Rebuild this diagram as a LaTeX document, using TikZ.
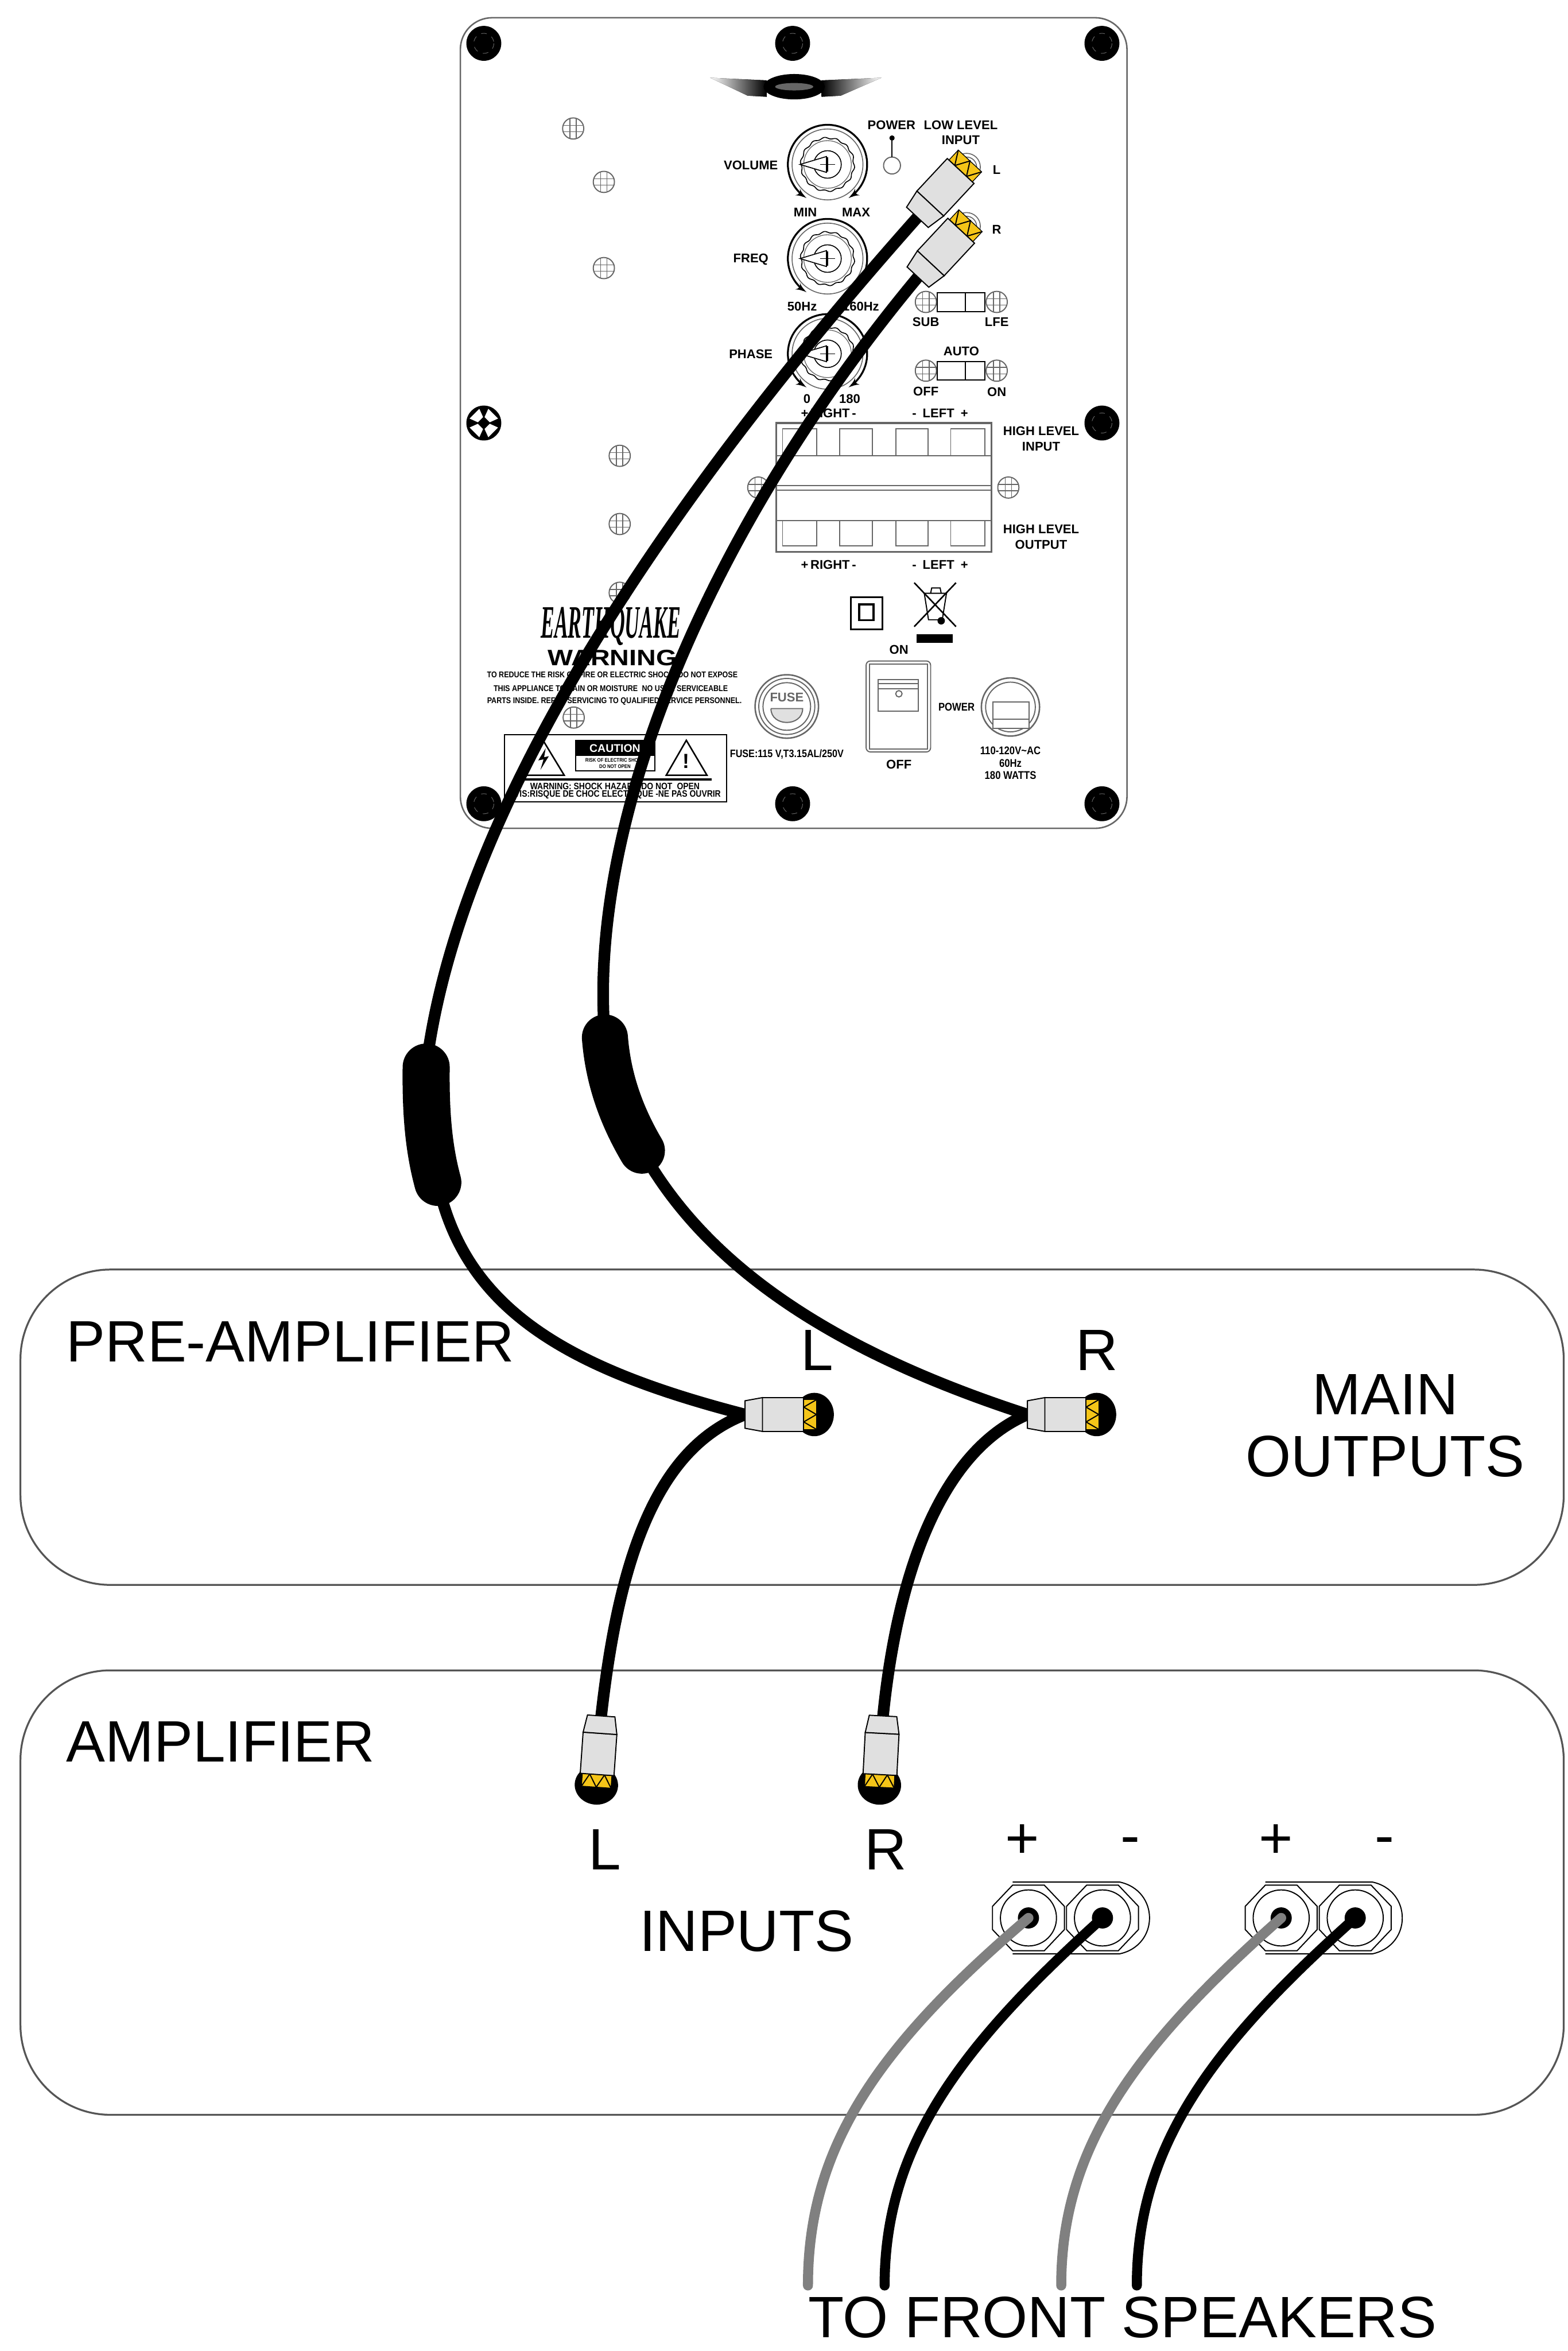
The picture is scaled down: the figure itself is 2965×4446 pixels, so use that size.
\documentclass[tikz,border=0pt]{standalone}
\usepackage{fontspec}
\setmainfont{Liberation Sans}
\newfontfamily\condfont[FakeStretch=0.86]{Liberation Sans}
\newfontfamily\earthfont[FakeStretch=0.44]{Liberation Serif}
\usepackage{tikz}
\usetikzlibrary{positioning, arrows}
\definecolor{boxgray}{HTML}{555555}
\definecolor{screwgray}{HTML}{666666}
\definecolor{plugbody}{HTML}{E0E0E0}
\definecolor{plugyellow}{HTML}{F5C518}
\definecolor{wiregray}{HTML}{808080}
\tikzset{
roundbox/.style={
  draw=boxgray,
  line width=1pt,
  rounded corners=1.7cm,
  minimum width=29.17cm,
  inner sep=0pt
  },
panelbox/.style={
  draw=screwgray,
  line width=0.8pt,
  rounded corners=0.6cm,
  minimum width=12.6cm,
  minimum height=15.32cm,
  inner sep=0pt
  },
bigtxt/.style={font=\fontsize{31.4}{38}\selectfont, inner sep=0pt},
lbl/.style={font=\bfseries\fontsize{6.8}{8}\selectfont, inner sep=0pt, align=center},
lblc/.style={font=\condfont\bfseries\fontsize{6}{7}\selectfont, inner sep=0pt},
warn/.style={font=\condfont\bfseries\fontsize{4.5}{5}\selectfont, inner sep=0pt},
warnb/.style={font=\condfont\bfseries\fontsize{5}{6}\selectfont, inner sep=0pt},
cable/.style={line width=0.22cm, line cap=round},
wire/.style={line width=0.19cm, line cap=round},
part/.style={draw=black, line width=0.6pt},
screw/.pic={
  \fill[black] (0,0) circle (33);
  \draw[screwgray, line width=0.3pt, dashed] (0,0) circle (19);
  },
crossscrew/.pic={
  \fill[black] (0,0) circle (33);
  \foreach \a in {45,135,225,315}
    \fill[white, rotate=\a] (9,-7) -- (25,-13) -- (25,13) -- (9,7) -- cycle;
  },
smallscrew/.pic={
  \draw[screwgray, line width=0.6pt, fill=white] (0,0) circle (20);
  \draw[screwgray, line width=0.5pt] (-20,-6) -- (20,-6) (-20,6) -- (20,6) (-6,-19) -- (-6,19) (6,-19) -- (6,19);
  },
knob/.pic={
  \draw[line width=1pt, <->, >=latex'] plot[domain=122:418, samples=60] ({75*cos(\x)},{75*sin(\x)});
  \draw[screwgray, line width=0.5pt] (0,0) circle (67);
  \draw[part, line width=0.5pt] plot[domain=0:360, samples=120] ({(50+1.5*sin(14*\x))*cos(\x)},{(50+1.5*sin(14*\x))*sin(\x)}) -- cycle;
  \draw[screwgray, line width=0.4pt] (0,0) circle (45);
  \draw[part, line width=0.5pt] (0,0) circle (26);
  \draw[part, fill=white, line width=0.5pt] (-52,0) -- (-2,-15) -- (-2,15) -- cycle;
  \draw[part, line width=0.5pt] (-14,0) -- (14,0) (0,-14) -- (0,14);
  },
rcaball/.pic={
  \fill[black] (131,0) ellipse (37 and 41);
  },
rcabody/.pic={
  \fill[plugyellow] (111,-28) rectangle (135,28);
  \draw[part] (135,-28) -- (111,-14) -- (135,0) -- (111,14) -- (135,28);
  \draw[part, line width=0.4pt] (111,-28) rectangle (135,28);
  \draw[part, fill=plugbody] (33,-32) rectangle (111,32);
  \draw[part, fill=plugbody] (0,-26) -- (33,-32) -- (33,32) -- (0,26) -- cycle;
  },
termpair/.pic={
  \draw[part] (-30,-68) -- (172,-68) .. controls (210,-60) and (229,-30) .. (229,0) .. controls (229,30) and (210,60) .. (172,68) -- (-30,68);
  \foreach \t in {0,140}{
    \draw[part, fill=white, xshift=\t*0.01cm] (-30,-62) -- (30,-62) -- (68,-22) -- (68,22) -- (30,62) -- (-30,62) -- (-68,22) -- (-68,-22) -- cycle;
    \draw[part, xshift=\t*0.01cm] (0,0) circle (53);
    \fill[black, xshift=\t*0.01cm] (0,0) circle (20);
  }
  }
}
\begin{document}
\begin{tikzpicture}[x=0.01cm,y=-0.01cm]
\useasboundingbox (0,0) rectangle (2965,4446);

% boxes
\node[roundbox, minimum height=5.96cm]	(preamp)	at (1498,2699)				{};
\node[roundbox, minimum height=8.4cm]	(amp)		[below=1.58cm of preamp]	{};
\node[panelbox]							(panel)		at (1501,800)				{};

% screws on the panel
\pic at (915,82) {screw};
\pic at (1499,82) {screw};
\pic at (2084,82) {screw};
\pic at (915,800) {crossscrew};
\pic at (2084,800) {screw};
\pic at (915,1520) {screw};
\pic at (1499,1520) {screw};
\pic at (2084,1520) {screw};
\foreach \p in {(1084,243),(1142,344),(1142,507),(1172,862),(1434,922),(1907,922),(1172,991),(1172,1121),(1085,1357),(1751,571),(1885,571),(1751,701),(1885,701)}
  \pic at \p {smallscrew};

% logo
\fill[left color=white, right color=black] (1343,147) -- (1450,152) -- (1450,183) -- (1414,181) -- cycle;
\fill[right color=white, left color=black] (1667,147) -- (1554,152) -- (1554,183) -- (1590,181) -- cycle;
\fill[black] (1502,164) ellipse (58 and 24);
\fill[screwgray] (1502,164) ellipse (36 and 7);

% knobs
\pic at (1565,311) {knob};
\pic at (1565,489) {knob};
\pic at (1565,669) {knob};
\node[lbl]	(volume)	at (1420,312)	{VOLUME};
\node[lbl]	(freq)		at (1420,491)	{FREQ};
\node[lbl]	(phase)		at (1420,670)	{PHASE};
\node[lbl]	(min)		at (1523,401)	{MIN};
\node[lbl]	(max)		at (1619,401)	{MAX};
\node[lbl]	(fifty)		at (1517,580)	{50Hz};
\node[lbl]	(onesixty)	at (1628,580)	{160Hz};
\node[lbl]	(zero)		at (1526,754)	{0};
\node[lbl]	(oneeighty)	at (1607,754)	{180};

% power lamp and inputs
\node[lbl]	(powerled)	at (1686,237)	{POWER};
\node[lbl]	(lowlevel)	at (1817,237)	{LOW LEVEL};
\node[lbl]	(lowinput)	[below=0.1cm of lowlevel]	{INPUT};
\node[lbl]	(inl)		at (1885,321)	{L};
\node[lbl]	(inr)		at (1885,434)	{R};
\draw[part, screwgray, fill=white] (1687,313) circle (16);
\fill[black] (1687,261) circle (5);
\draw[part] (1687,261) -- (1687,297);

% switches
\draw[part, fill=white] (1772,554) rectangle (1863,589) (1826,554) -- (1826,589);
\draw[part, fill=white] (1772,684) rectangle (1863,719) (1826,684) -- (1826,719);
\node[lbl]	(sub)	at (1751,609)	{SUB};
\node[lbl]	(lfe)	at (1885,609)	{LFE};
\node[lbl]	(auto)	at (1818,664)	{AUTO};
\node[lbl]	(off)	at (1751,740)	{OFF};
\node[lbl]	(on)	at (1885,741)	{ON};

% terminal block
\node[lbl]	(rightin)	at (1567,781)	{+\,RIGHT\,-};
\node[lbl]	(leftin)	at (1778,781)	{-\enspace LEFT\enspace +};
\draw[part, screwgray, line width=1pt] (1468,800) rectangle (1875,1044);
\foreach \a/\b in {1480/1545,1588/1650,1694/1755,1798/1863}{
  \draw[part, screwgray] (\a,862) -- (\a,811) -- (\b,811) -- (\b,862);
  \draw[part, screwgray] (\a,984) -- (\a,1032) -- (\b,1032) -- (\b,984);
}
\draw[part, screwgray] (1468,862) -- (1875,862) (1468,918) -- (1875,918) (1468,927) -- (1875,927) (1468,984) -- (1875,984);
\node[lbl]	(highin)	at (1969,830)	{HIGH LEVEL\\[0.4pt]INPUT};
\node[lbl]	(highout)	at (1969,1015)	{HIGH LEVEL\\[0.4pt]OUTPUT};
\node[lbl]	(rightout)	at (1567,1068)	{+\,RIGHT\,-};
\node[lbl]	(leftout)	at (1778,1068)	{-\enspace LEFT\enspace +};

% symbols
\draw[black, line width=1pt] (1609,1129) rectangle (1669,1190) (1625,1143) rectangle (1652,1173);
\draw[black, line width=0.8pt] (1729,1102) -- (1808,1185) (1808,1102) -- (1729,1185);
\draw[part] (1748,1122) -- (1790,1122) -- (1782,1172) -- (1756,1172) -- cycle (1760,1122) -- (1762,1112) -- (1778,1112) -- (1780,1122);
\fill[black] (1780,1174) circle (7);
\fill[black] (1733,1199) rectangle (1802,1216);

% mains switch and socket
\node[lbl]	(swon)	at (1700,1229)	{ON};
\node[lbl]	(swoff)	at (1700,1446)	{OFF};
\draw[part, screwgray, rounded corners=0.08cm] (1638,1250) rectangle (1760,1422);
\draw[part, screwgray] (1644,1256) rectangle (1754,1416);
\draw[part, screwgray] (1661,1285) rectangle (1737,1345) (1661,1293) -- (1737,1293) (1661,1303) -- (1737,1303);
\draw[part, screwgray] (1700,1312) circle (6);
\node[lblc]	(swpower)	at (1809,1337)	{POWER};
\draw[part, screwgray, line width=0.8pt] (1911,1337) circle (55);
\draw[part, screwgray] (1911,1337) circle (47);
\draw[part, screwgray, fill=white] (1878,1327) rectangle (1946,1377) (1878,1360) -- (1946,1360);
\node[lblc]	(volts)		at (1911,1420)	{110-120V\textasciitilde AC};
\node[lblc]	(hertz)		at (1911,1443)	{60Hz};
\node[lblc]	(watts)		at (1911,1466)	{180 WATTS};

% fuse
\draw[part, screwgray, line width=0.8pt] (1488,1336) circle (60);
\draw[part, screwgray] (1488,1336) circle (53);
\draw[part, screwgray] (1488,1336) circle (45);
\draw[part, screwgray, fill=plugbody] (1458,1340) -- (1518,1340) .. controls (1518,1375) and (1458,1375) .. (1458,1340);
\node[lbl, text=screwgray]	(fuse)		at (1488,1319)	{FUSE};
\node[warn, font=\condfont\bfseries\fontsize{5.8}{6}\selectfont]	(fusetxt)	at (1488,1426)	{FUSE:115 V,T3.15AL/250V};

% warning text
\node[inner sep=0pt, font=\earthfont\bfseries\itshape\fontsize{25}{25}\selectfont]	(brand)	at (1155,1184)	{EARTHQUAKE};
\node[inner sep=0pt, font=\bfseries\fontsize{12}{12}\selectfont]	(warning)	at (1158,1244)	{\scalebox{1.2}[1]{WARNING}};
\node[warn]	(warnone)	at (1158,1277)	{TO REDUCE THE RISK OF FIRE OR ELECTRIC SHOCK, DO NOT EXPOSE};
\node[warn]	(warntwo)	at (1155,1302)	{THIS APPLIANCE TO RAIN OR MOISTURE\enspace NO USER SERVICEABLE};
\node[warn]	(warnthree)	at (1162,1326)	{PARTS INSIDE. REFER SERVICING TO QUALIFIED SERVICE PERSONNEL.};

% caution label
\draw[part] (954,1389) rectangle (1374,1516);
\draw[part, line width=0.8pt] (1027,1400) -- (1067,1466) -- (987,1466) -- cycle;
\fill[black] (1032,1415) -- (1018,1438) -- (1028,1436) -- (1022,1456) -- (1038,1430) -- (1029,1432) -- cycle;
\draw[part, line width=0.8pt] (1298,1400) -- (1337,1466) -- (1260,1466) -- cycle;
\node[inner sep=0pt, font=\bfseries\fontsize{11}{11}\selectfont]	(bang)	at (1298,1440)	{!};
\draw[part] (1089,1400) rectangle (1238,1458);
\fill[black] (1089,1400) rectangle (1238,1430);
\node[lbl, text=white, font=\bfseries\fontsize{6}{6}\selectfont]	(caution)	at (1163,1415)	{CAUTION};
\node[warn, font=\condfont\bfseries\fontsize{2.8}{3}\selectfont]	(riskone)	at (1163,1438)	{RISK OF ELECTRIC SHOCK};
\node[warn, font=\condfont\bfseries\fontsize{2.8}{3}\selectfont]	(risktwo)	at (1163,1449)	{DO NOT OPEN};
\draw[black, line width=1.2pt] (987,1474) -- (1346,1474);
\node[warnb]	(warnfour)	at (1163,1487)	{WARNING: SHOCK HAZARD-DO NOT\enspace OPEN};
\node[warnb]	(warnfive)	at (1163,1503)	{AVIS:RISQUE DE CHOC ELECTRIQUE -NE PAS OUVRIR};

% big labels
\node[bigtxt, anchor=west]	(preamptxt)	at (125,2537)	{PRE-AMPLIFIER};
\node[bigtxt, anchor=west]	(amptxt)	at (125,3294)	{AMPLIFIER};
\node[bigtxt]	(mainl)		at (1545,2554)	{L};
\node[bigtxt]	(mainr)		at (2074,2554)	{R};
\node[bigtxt]	(maintxt)	at (2620,2637)	{MAIN};
\node[bigtxt]	(outtxt)	[below=0.39cm of maintxt]	{OUTPUTS};
\node[bigtxt]	(ampl)		at (1144,3498)	{L};
\node[bigtxt]	(ampr)		at (1675,3498)	{R};
\node[bigtxt]	(inputs)	at (1412,3652)	{INPUTS};
\node[bigtxt]	(plusa)		at (1933,3482)	{+};
\node[bigtxt]	(minusa)	at (2138,3492)	{-};
\node[bigtxt]	(plusb)		at (2413,3482)	{+};
\node[bigtxt]	(minusb)	at (2618,3492)	{-};
\node[bigtxt]	(speakers)	at (2123,4382)	{TO FRONT SPEAKERS};

% cable ends
\coordinate (lpanel) at (1735,411);
\coordinate (rpanel) at (1736,524);
\coordinate (lsleevetop) at (806,2018);
\coordinate (lsleevebot) at (828,2236);
\coordinate (rsleevetop) at (1144,1962);
\coordinate (rsleevebot) at (1214,2176);
\coordinate (lmain) at (1409,2675);
\coordinate (rmain) at (1943,2675);
\coordinate (linput) at (1137,3245);
\coordinate (rinput) at (1670,3245);
\coordinate (tplusa) at (1945,3627);
\coordinate (tminusa) at (2085,3627);
\coordinate (tplusb) at (2423,3627);
\coordinate (tminusb) at (2563,3627);
\coordinate (endplusa) at (1528,4322);
\coordinate (endminusa) at (1673,4322);
\coordinate (endplusb) at (2007,4322);
\coordinate (endminusb) at (2150,4322);

% sockets behind the panel plugs
\foreach \y in {316,428}{
  \draw[part, screwgray, line width=0.5pt] (1828,\y) circle (26);
  \draw[part, screwgray, line width=0.5pt] (1828,\y) circle (19);
}

% cables
\draw[cable] (lpanel) .. controls (1300,900) and (870,1500) .. (lsleevetop);
\draw[cable] (rpanel) .. controls (1340,1000) and (1110,1550) .. (rsleevetop);
\draw[line width=0.89cm, line cap=round] (lsleevetop) .. controls (805,2100) and (810,2170) .. (lsleevebot);
\draw[line width=0.87cm, line cap=round] (rsleevetop) .. controls (1150,2040) and (1175,2110) .. (rsleevebot);
\draw[cable] (lsleevebot) .. controls (880,2480) and (1080,2590) .. (lmain);
\draw[cable] (rsleevebot) .. controls (1350,2420) and (1620,2570) .. (rmain);
\draw[cable] (lmain) .. controls (1240,2740) and (1170,2950) .. (linput);
\draw[cable] (rmain) .. controls (1790,2740) and (1700,2950) .. (rinput);

% plugs
\pic[rotate=47, scale=1.08] at (lpanel) {rcabody};
\pic[rotate=47, scale=1.08] at (rpanel) {rcabody};
\pic at (lmain) {rcaball};
\pic at (lmain) {rcabody};
\pic at (rmain) {rcaball};
\pic at (rmain) {rcabody};
\pic[rotate=-94] at (linput) {rcaball};
\pic[rotate=-94] at (linput) {rcabody};
\pic[rotate=-93] at (rinput) {rcaball};
\pic[rotate=-93] at (rinput) {rcabody};

% speaker terminals and wires
\pic at (tplusa) {termpair};
\pic at (tplusb) {termpair};
\draw[wire, wiregray] (tplusa) .. controls (1660,3870) and (1528,4060) .. (endplusa);
\draw[wire] (tminusa) .. controls (1815,3870) and (1673,4060) .. (endminusa);
\draw[wire, wiregray] (tplusb) .. controls (2148,3870) and (2007,4060) .. (endplusb);
\draw[wire] (tminusb) .. controls (2290,3870) and (2150,4060) .. (endminusb);
\end{tikzpicture}
\end{document}
